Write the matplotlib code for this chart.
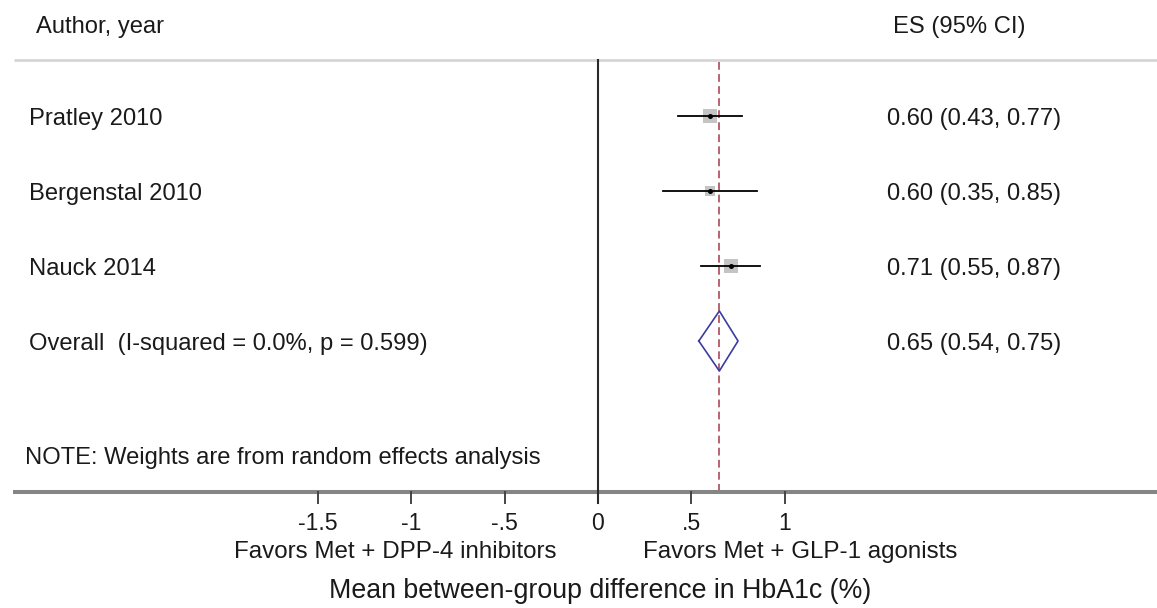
import numpy as np
import matplotlib
matplotlib.use('Agg')
import matplotlib.pyplot as plt

plt.rcParams['font.family'] = ['Liberation Sans', 'DejaVu Sans']

# study data
studies = ['Pratley 2010', 'Bergenstal 2010', 'Nauck 2014']
es = [0.60, 0.60, 0.71]
lo = [0.43, 0.35, 0.55]
hi = [0.77, 0.85, 0.87]

overall_label = 'Overall  (I-squared = 0.0%, p = 0.599)'
overall_es = 0.65
overall_lo = 0.54
overall_hi = 0.75

ticks = [-1.5, -1, -0.5, 0, 0.5, 1]
tick_labels = ['-1.5', '-1', '-.5', '0', '.5', '1']

# layout (pixel units of the 1157x608 canvas)
W, H = 1157, 608
x0_px, unit_px = 598, 186.7


def px(x):
    return (x - x0_px) / unit_px


row_y = [116, 191, 266]
overall_y = 341
top_y, axis_y = 60, 492
text_col = '#1a1a1a'
fs = 17.1

fig = plt.figure(figsize=(W / 100, H / 100), dpi=100)
ax = fig.add_axes([0, 0, 1, 1])
ax.set_xlim(px(0), px(W))
ax.set_ylim(H, 0)
ax.axis('off')

# header and rules
ax.text(px(36), 27, 'Author, year', fontsize=fs, color=text_col, va='center', ha='left')
ax.text(px(893), 27, 'ES (95% CI)', fontsize=fs, color=text_col, va='center', ha='left')
ax.plot([px(14), px(W)], [top_y, top_y], color='#d4d4d4', lw=1.9, solid_capstyle='butt')
ax.plot([px(13), px(W)], [axis_y, axis_y], color='#858585', lw=2.9, solid_capstyle='butt', zorder=3)

# null line and overall line
ax.plot([0, 0], [top_y, axis_y + 11], color='#2a2a2a', lw=1.5, zorder=4)
ax.plot([overall_es, overall_es], [top_y + 2, axis_y], color='#b86470', lw=1.4,
        dashes=(4, 2.2), zorder=2)

# weights from CI width (inverse variance)
se = (np.array(hi) - np.array(lo)) / (2 * 1.96)
w = 1 / se ** 2
w = 100 * w / w.sum()
side = 2.14 * np.sqrt(w)

for i, name in enumerate(studies):
    y = row_y[i]
    ax.plot([lo[i], hi[i]], [y, y], color='black', lw=1.3, zorder=3)
    ax.plot(es[i], y, marker='s', markersize=side[i] * 0.72, color='#c4c4c4',
            markeredgewidth=0, zorder=2)
    ax.plot(es[i], y, marker='o', markersize=3.6, color='black', markeredgewidth=0, zorder=4)
    ax.text(px(29), y + 3, name, fontsize=fs, color=text_col, va='center', ha='left')
    ax.text(px(887), y + 3, f'{es[i]:.2f} ({lo[i]:.2f}, {hi[i]:.2f})', fontsize=fs,
            color=text_col, va='center', ha='left')

# overall diamond
dx = [overall_lo, overall_es, overall_hi, overall_es, overall_lo]
dy = [overall_y, overall_y - 30, overall_y, overall_y + 30, overall_y]
ax.plot(dx, dy, color='#3c3ca0', lw=1.2, zorder=3)
ax.text(px(29), overall_y + 3, overall_label, fontsize=fs, color=text_col, va='center', ha='left')
ax.text(px(887), overall_y + 3, f'{overall_es:.2f} ({overall_lo:.2f}, {overall_hi:.2f})',
        fontsize=fs, color=text_col, va='center', ha='left')

ax.text(px(25), 458, 'NOTE: Weights are from random effects analysis', fontsize=fs,
        color=text_col, va='center', ha='left')

# x axis ticks
for t, lab in zip(ticks, tick_labels):
    ax.plot([t, t], [axis_y, axis_y + 11], color='#444444', lw=1.4, zorder=3)
    ax.text(t, 523, lab, fontsize=16.6, color=text_col, va='center', ha='center')

ax.text(px(557), 552, 'Favors Met + DPP-4 inhibitors', fontsize=17.4, color=text_col,
        va='center', ha='right')
ax.text(px(643), 552, 'Favors Met + GLP-1 agonists', fontsize=17.4, color=text_col,
        va='center', ha='left')
ax.text(px(600), 591, 'Mean between-group difference in HbA1c (%)', fontsize=19.3,
        color=text_col, va='center', ha='center')

fig.savefig('out.png', dpi=100)
